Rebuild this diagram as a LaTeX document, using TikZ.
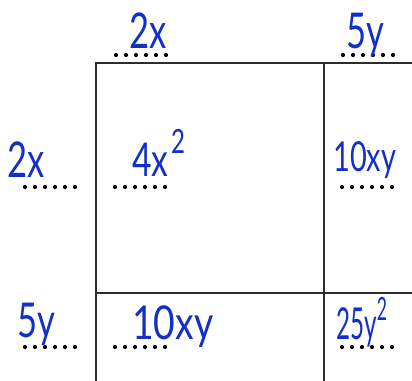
\documentclass[tikz,border=0pt]{standalone}
\usepackage{fontspec}
\setmainfont{Lato}
\definecolor{ink}{RGB}{18,48,200}
\definecolor{gridc}{RGB}{45,45,45}
\newcommand{\hwtext}[3]{\scalebox{#2}[1]{\fontsize{#1}{#1}\selectfont #3}}
\begin{document}
\begin{tikzpicture}[x=0.75pt,y=-0.75pt,
  gridline/.style={draw=gridc,line width=1.5pt},
  lbl/.style={text=ink,inner sep=0pt,anchor=base west}]
\useasboundingbox (0,0) rectangle (412,381);
% grid
\coordinate (tl) at (96.5,63.5);
\coordinate (tr) at (412,63.5);
\coordinate (bl) at (96.5,381);
\coordinate (vt) at (324,63.5);
\coordinate (vb) at (324,381);
\coordinate (hl) at (96.5,293.5);
\coordinate (hr) at (412,293.5);
\draw[gridline] (tr) -- (tl) -- (bl);
\draw[gridline] (vt) -- (vb);
\draw[gridline] (hl) -- (hr);
% dotted lines
\foreach \x/\y in {116/55, 343/55, 25/187, 115/187, 342/187, 25/347, 115/347, 342/347}{
  \foreach \i in {0,...,5}{
    \fill (\x+\i*10,\y) circle (2.1);
  }
}
% labels
\node[lbl] (t2x) at (129,49) {\hwtext{37}{0.7}{2x}};
\node[lbl] (t5y) at (346,49) {\hwtext{37}{0.7}{5y}};
\node[lbl] (l2x) at (7,178) {\hwtext{37}{0.7}{2x}};
\node[lbl] (c4x) at (132,177) {\hwtext{35}{0.72}{4x\hspace{0.08em}\raisebox{0.5em}{\fontsize{25}{25}\selectfont 2}}};
\node[lbl] (c10a) at (333,172) {\hwtext{31}{0.7}{10xy}};
\node[lbl] (l5y) at (17,338) {\hwtext{36}{0.72}{5y}};
\node[lbl] (c10b) at (132,340) {\hwtext{35}{0.8}{10xy}};
\node[lbl] (c25) at (336,340) {\hwtext{33}{0.55}{25y\raisebox{0.45em}{\fontsize{24}{24}\selectfont 2}}};
\end{tikzpicture}
\end{document}
